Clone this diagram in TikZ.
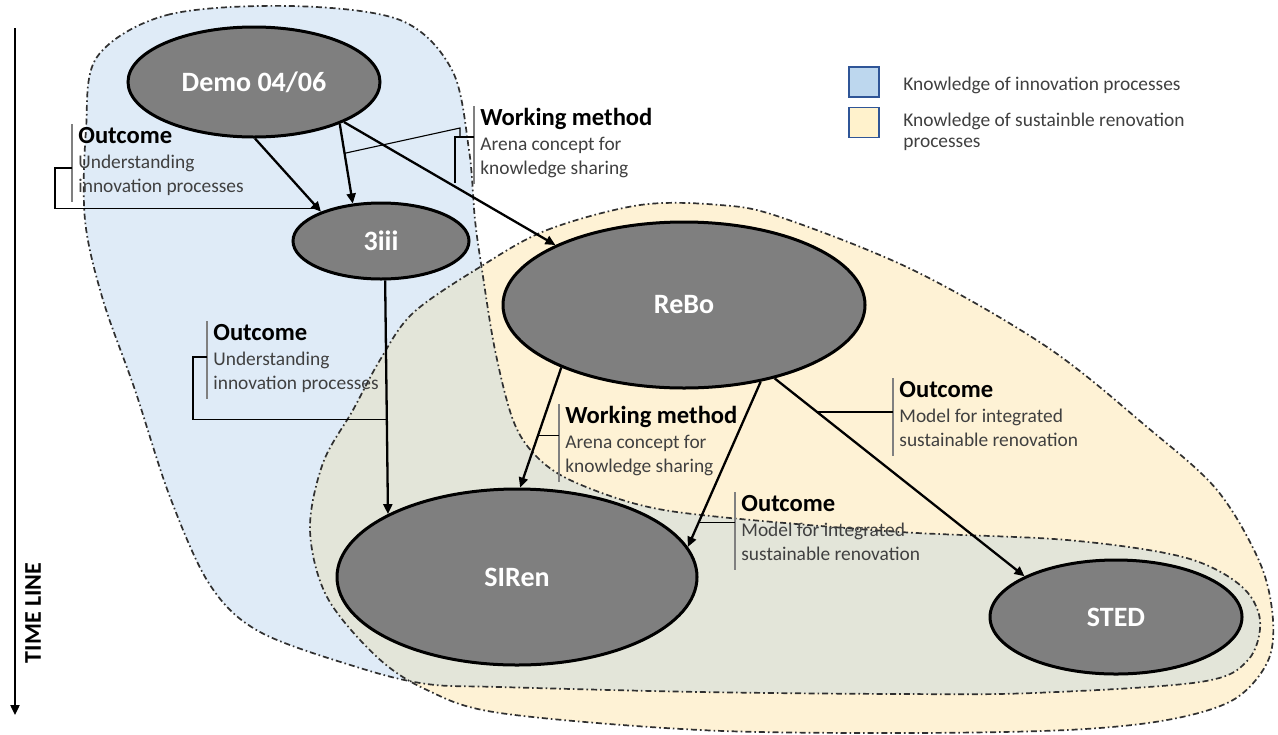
\documentclass[tikz,border=0pt]{standalone}
\usepackage{fontspec}
\setmainfont{Carlito}
\usetikzlibrary{arrows.meta,shapes.geometric}
\definecolor{regblue}{HTML}{DFEBF7}
\definecolor{regyellow}{HTML}{FEF2D5}
\definecolor{regboth}{HTML}{E3E5D9}
\definecolor{procgray}{HTML}{7F7F7F}
\definecolor{bargray}{HTML}{808080}
\definecolor{bodygray}{HTML}{404040}
\definecolor{regline}{HTML}{303030}
\definecolor{legblue}{HTML}{BDD7EE}
\definecolor{legyellow}{HTML}{FFF2CC}
\definecolor{legline}{HTML}{2F5597}
\tikzset{
  proc/.style={ellipse, draw=black, line width=1.5pt, fill=procgray, text=white,
    font=\bfseries\fontsize{14}{16}\selectfont, inner sep=0pt},
  flow/.style={line width=1.15pt, -{Triangle[length=5pt,width=4.5pt]}},
  lead/.style={line width=0.55pt, draw=black},
  accent/.style={line width=1pt, draw=bargray},
  head/.style={font=\bfseries\fontsize{12.3}{14}\selectfont, anchor=base west, inner sep=0pt, text=black},
  body/.style={font=\fontsize{9.7}{12}\selectfont, anchor=base west, inner sep=0pt, text=bodygray},
  region/.style={draw=regline, line width=0.85pt, dash pattern=on 3pt off 1.5pt on 0.8pt off 1.5pt},
  legbox/.style={draw=legline, line width=0.8pt, minimum width=15pt, minimum height=15pt, inner sep=0pt},
}
\newcommand\mycallout[6]{%
  \node[head] (#1h) at (#2,#3) {#4};
  \node[body] (#1a) at (#2,#3+25) {#5};
  \node[body] (#1b) at (#2,#3+49) {#6};
  \coordinate (#1t) at (#2-6,#3-19);
  \coordinate (#1u) at (#2-6,#3+59);
  \draw[accent] (#1t) -- (#1u);
}
\def\bluepath{plot[smooth cycle, tension=0.55] coordinates {
  (97,57) (167,15) (290,6) (400,20) (452,70) (469,150) (475,220) (482,270)
  (495,350) (513,420) (535,455) (570,480) (640,505) (720,517) (900,532)
  (1067,540) (1183,557) (1240,585) (1260,620) (1248,660) (1200,682) (1033,693)
  (900,694) (700,692) (500,687) (427,684) (360,668) (260,632) (210,585)
  (170,497) (135,390) (103,300) (85,220) (86,130)}}
\def\yellowpath{plot[smooth cycle, tension=0.55] coordinates {
  (480,267) (547,230) (640,205) (720,205) (780,217) (913,270) (1047,347)
  (1147,427) (1217,490) (1260,563) (1273,620) (1267,663) (1233,700) (1167,720)
  (1067,730) (900,733) (700,730) (500,713) (427,690) (377,657) (327,597)
  (310,530) (323,463) (353,410) (380,360) (413,313)}}
\begin{document}
\begin{tikzpicture}[x=0.5pt,y=-0.5pt]
\fill[white] (0,0) rectangle (1278,734);
\useasboundingbox (0,0) rectangle (1278,734);
% regions
\fill[regblue] \bluepath;
\fill[regyellow] \yellowpath;
\begin{scope}
  \clip \bluepath;
  \fill[regboth] \yellowpath;
\end{scope}
\draw[region] \bluepath;
\draw[region] \yellowpath;
% time line
\coordinate (tltop) at (15,28);
\coordinate (tlbot) at (15,715);
\draw[flow] (tltop) -- (tlbot);
\node[rotate=90, font=\bfseries\fontsize{12}{14}\selectfont, inner sep=0pt] (tl) at (33,613) {TIME LINE};
% processes
\node[proc, minimum width=126pt, minimum height=55pt] (demo) at (254,82) {Demo 04/06};
\node[proc, minimum width=88pt, minimum height=38pt] (iii) at (381,241) {3iii};
\node[proc, minimum width=181pt, minimum height=83pt] (rebo) at (684,305) {ReBo};
\node[proc, minimum width=180pt, minimum height=88pt] (siren) at (517,577) {SIRen};
\node[proc, minimum width=126pt, minimum height=57pt] (sted) at (1116,617) {STED};
% flows
\draw[flow] (demo.-89) -- coordinate[pos=0.96] (a1) (iii.154);
\draw[flow] (demo.-26) -- coordinate[pos=0.37] (a2) (iii.127);
\draw[flow] (demo.-24) -- (rebo.155);
\draw[flow] (iii.-84) -- coordinate[pos=0.596] (a4) (siren.154);
\draw[flow] (rebo.207) -- coordinate[pos=0.567] (a5) (siren.88);
\draw[flow] (rebo.-45) -- coordinate[pos=0.854] (a6) (siren.10);
\draw[flow] (rebo.-39) -- coordinate[pos=0.17] (a7) (sted.156);
% callouts
\mycallout{cA}{78}{143}{Outcome}{Understanding}{innovation processes}
\mycallout{cB}{480}{125}{Working method}{Arena concept for}{knowledge sharing}
\mycallout{cC}{213}{340}{Outcome}{Understanding}{innovation processes}
\mycallout{cD}{565}{423}{Working method}{Arena concept for}{knowledge sharing}
\mycallout{cE}{899}{397}{Outcome}{Model for integrated}{sustainable renovation}
\mycallout{cF}{741}{511}{Outcome}{Model for integrated}{sustainable renovation}
\draw[lead] (cAt |- 0,168) -- (55,168) |- (a1);
\draw[lead] (a2) -- (460,128) -- (460,137);
\draw[lead] (cBt |- 0,137) -- (455,137) -- (455,183);
\draw[lead] (cCt |- 0,357) -- (193,357) |- (a4);
\draw[lead] (a5) -- (a5 -| cDt);
\draw[lead] (a7) -- (a7 -| cEt);
\draw[lead] (a6) -- (a6 -| cFt);
% legend
\node[legbox, fill=legblue] (lgb) at (864,82) {};
\node[legbox, fill=legyellow] (lgy) at (864,122.5) {};
\node[body] (lgbt) at (903,90) {Knowledge of innovation processes};
\node[body] (lgyt) at (903,126) {Knowledge of sustainble renovation};
\node[body] (lgyt2) at (903,147) {processes};
\end{tikzpicture}
\end{document}
